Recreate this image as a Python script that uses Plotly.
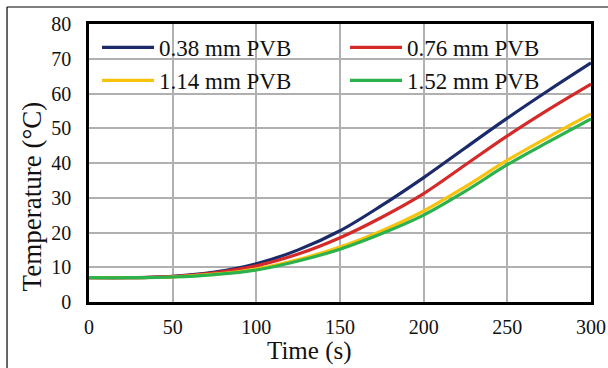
import plotly.graph_objects as go

time_s = [0, 25, 50, 75, 100, 125, 150, 175, 200, 225, 250, 275, 300]
pvb_038 = [7.0, 7.0, 7.4, 8.6, 11.0, 15.0, 20.5, 27.8, 35.8, 44.4, 52.9, 61.0, 68.8]
pvb_076 = [7.0, 7.0, 7.3, 8.4, 10.4, 13.8, 18.5, 24.4, 31.2, 39.5, 47.8, 55.5, 62.7]
pvb_114 = [7.0, 7.0, 7.2, 8.0, 9.5, 12.2, 15.8, 20.5, 26.2, 33.2, 40.8, 47.6, 54.1]
pvb_152 = [7.0, 7.0, 7.2, 7.9, 9.2, 11.8, 15.2, 19.7, 25.0, 31.9, 39.5, 46.2, 52.7]

series = [
    ("0.38 mm PVB", pvb_038, "#1B2A6B", "legend"),
    ("0.76 mm PVB", pvb_076, "#D42A2A", "legend2"),
    ("1.14 mm PVB", pvb_114, "#F9C20E", "legend"),
    ("1.52 mm PVB", pvb_152, "#2BB24C", "legend2"),
]

FONT = "Liberation Serif"

fig = go.Figure()
for name, ys, color, lg in series:
    fig.add_trace(go.Scatter(
        x=time_s, y=ys, name=name, mode="lines",
        line=dict(color=color, width=3.2, shape="spline", smoothing=1.0),
        legend=lg,
    ))

legend_common = dict(
    bgcolor="rgba(0,0,0,0)", borderwidth=0,
    font=dict(family=FONT, size=23, color="#111"),
    orientation="v", xanchor="left", yanchor="top",
    itemwidth=52, tracegroupgap=0,
)

fig.update_layout(
    width=608, height=368,
    margin=dict(l=89, r=17, t=24, b=66, autoexpand=False),
    paper_bgcolor="white", plot_bgcolor="white",
    showlegend=True,
    legend=dict(x=0.016, y=0.993, **legend_common),
    legend2=dict(x=0.51, y=0.993, **legend_common),
    font=dict(family=FONT, color="#111"),
    xaxis=dict(
        range=[0, 300], tickvals=[0, 50, 100, 150, 200, 250, 300],
        showgrid=True, gridcolor="#B0B0B0", gridwidth=1.5,
        showline=True, mirror=True, linecolor="black", linewidth=2.5,
        ticks="", tickfont=dict(family=FONT, size=20, color="#111"),
        ticklabelstandoff=5, zeroline=False, automargin=False,
    ),
    yaxis=dict(
        range=[0, 80], tickvals=[0, 10, 20, 30, 40, 50, 60, 70, 80],
        showgrid=True, gridcolor="#B0B0B0", gridwidth=1.5,
        showline=True, mirror=True, linecolor="black", linewidth=2.5,
        ticks="", tickfont=dict(family=FONT, size=20, color="#111"),
        ticklabelstandoff=11, zeroline=False, automargin=False,
    ),
    annotations=[
        dict(text="Time (s)", xref="paper", yref="paper", x=0.44, y=-0.178,
             xanchor="center", yanchor="middle", showarrow=False,
             font=dict(family=FONT, size=25, color="#111")),
        dict(text="Temperature (°C)", xref="paper", yref="paper", x=-0.1135, y=0.38,
             xanchor="center", yanchor="middle", showarrow=False, textangle=-90,
             font=dict(family=FONT, size=27, color="#111")),
    ],
    shapes=[
        dict(type="line", xref="paper", yref="paper", x0=-0.1633, x1=-0.1633,
             y0=-0.3, y1=1.0612, line=dict(color="black", width=1.2)),
        dict(type="line", xref="paper", yref="paper", x0=-0.1633, x1=1.05,
             y0=1.0612, y1=1.0612, line=dict(color="black", width=1.2)),
    ],
)

fig.write_html("out.html")
